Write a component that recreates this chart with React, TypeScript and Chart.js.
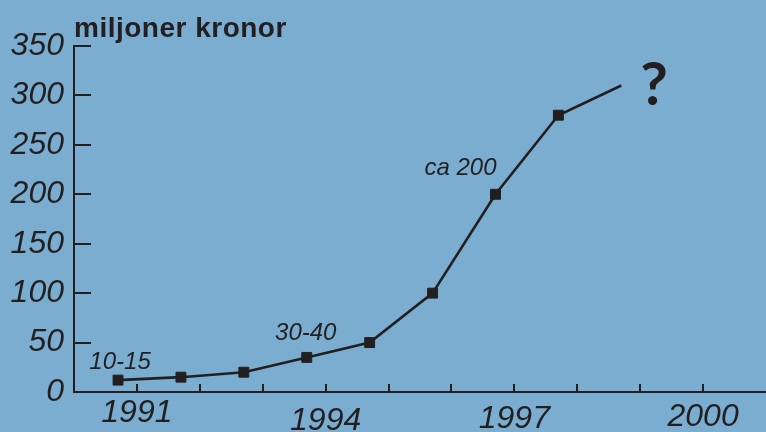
import React, { useEffect, useRef } from "react";
import { Chart, registerables } from "chart.js";

Chart.register(...registerables);

// ---- data ----
const years = [1990.7, 1991.7, 1992.7, 1993.7, 1994.7, 1995.7, 1996.7, 1997.7, 1998.7];
const values = [12, 15, 20, 35, 50, 100, 200, 280, 310];
const markerShown = [true, true, true, true, true, true, true, true, false];
const xTickYears = [1991, 1992, 1993, 1994, 1995, 1996, 1997, 1998, 1999, 2000];
const xLabelYears = [1991, 1994, 1997, 2000];
const yMin = 0;
const yMax = 350;
const yStep = 50;
const unitLabel = "miljoner kronor";
const annotationTexts = ["10-15", "30-40", "ca 200", "?"];
const annotationPoints = [0, 3, 6, 8];

// ---- style ----
const INK = "#231f20";
const BG = "#7aadd0";
const FAMILY = "'Liberation Sans', Arial, sans-serif";
const xLabelDrop: Record<number, number> = { 1991: 0, 1994: 8, 1997: 6, 2000: 4 };
const annotationStyle = [
  { font: `italic 24px ${FAMILY}`, align: "center", dx: 2, dy: -11 },
  { font: `italic 24px ${FAMILY}`, align: "center", dx: -1, dy: -17 },
  { font: `italic 24px ${FAMILY}`, align: "center", dx: -35, dy: -19 },
  { font: `bold 60px Lato, ${FAMILY}`, align: "left", dx: 19, dy: 19 },
];

export default function App() {
  const ref = useRef<HTMLCanvasElement>(null);

  useEffect(() => {
    document.body.style.margin = "0";
    document.body.style.background = BG;
    const canvas = ref.current!;

    const bgPlugin = {
      id: "bg",
      beforeDraw(chart: any) {
        const { ctx, width, height } = chart;
        ctx.save();
        ctx.fillStyle = BG;
        ctx.fillRect(0, 0, width, height);
        ctx.restore();
      },
    };

    const annotationPlugin = {
      id: "annots",
      afterDatasetsDraw(chart: any) {
        const { ctx, chartArea, scales } = chart;
        ctx.save();
        ctx.fillStyle = INK;
        ctx.textBaseline = "alphabetic";
        ctx.font = `bold 28px ${FAMILY}`;
        ctx.textAlign = "left";
        (ctx as any).letterSpacing = "0.5px";
        ctx.fillText(unitLabel, chartArea.left, chartArea.top - 9);
        (ctx as any).letterSpacing = "0px";
        annotationTexts.forEach((t, i) => {
          const idx = annotationPoints[i];
          const px = scales.x.getPixelForValue(years[idx]);
          const py = scales.y.getPixelForValue(values[idx]);
          const st = annotationStyle[i];
          ctx.font = st.font;
          ctx.textAlign = st.align as CanvasTextAlign;
          ctx.fillText(t, px + st.dx, py + st.dy);
        });
        ctx.restore();
      },
    };

    const zeroPad = (scale: any) => {
      scale.paddingTop = 0;
      scale.paddingBottom = 0;
      scale.paddingLeft = 0;
      scale.paddingRight = 0;
    };

    const chart = new Chart(canvas, {
      type: "line",
      data: {
        datasets: [
          {
            data: years.map((x, i) => ({ x, y: values[i] })),
            borderColor: INK,
            borderWidth: 2.6,
            pointStyle: "rect",
            pointRadius: markerShown.map((m) => (m ? 7 : 0)),
            pointBackgroundColor: INK,
            pointBorderColor: INK,
            pointBorderWidth: 1,
            tension: 0,
            clip: false as any,
          },
        ],
      },
      options: {
        animation: false,
        responsive: false,
        maintainAspectRatio: false,
        layout: { autoPadding: false, padding: { top: 46, left: 0, right: 0, bottom: 0 } },
        plugins: {
          legend: { display: false },
          tooltip: { enabled: false },
          title: { display: false },
        },
        scales: {
          x: {
            type: "linear",
            min: 1990,
            max: 2001,
            afterBuildTicks: (scale: any) => {
              scale.ticks = xTickYears.map((v) => ({ value: v }));
            },
            afterFit: (scale: any) => {
              scale.height = 40;
              zeroPad(scale);
            },
            border: { display: true, color: INK, width: 2 },
            grid: {
              drawOnChartArea: false,
              drawTicks: true,
              tickLength: -8,
              color: INK,
              lineWidth: 2,
            },
            ticks: {
              padding: 8,
              color: INK,
              maxRotation: 0,
              autoSkip: false,
              font: (ctx: any) => {
                const v = ctx.tick ? ctx.tick.value : 0;
                const drop = xLabelDrop[v] ?? 0;
                return {
                  family: FAMILY,
                  size: 32,
                  style: "italic",
                  lineHeight: `${42 + drop * 2}px`,
                };
              },
              callback: (v: any) => (xLabelYears.includes(Number(v)) ? String(v) : ""),
            },
          },
          y: {
            type: "linear",
            min: yMin,
            max: yMax,
            afterFit: (scale: any) => {
              scale.width = 74;
              zeroPad(scale);
            },
            border: { display: true, color: INK, width: 2 },
            grid: {
              drawOnChartArea: false,
              drawTicks: true,
              tickLength: -17,
              color: INK,
              lineWidth: 2,
            },
            ticks: {
              stepSize: yStep,
              padding: 27,
              color: INK,
              font: { family: FAMILY, size: 32, style: "italic", lineHeight: 1.2 },
            },
          },
        },
      },
      plugins: [bgPlugin, annotationPlugin],
    });

    return () => chart.destroy();
  }, []);

  return (
    <div style={{ width: 766, height: 432, background: BG }}>
      <canvas ref={ref} width={766} height={432} style={{ display: "block" }} />
    </div>
  );
}
